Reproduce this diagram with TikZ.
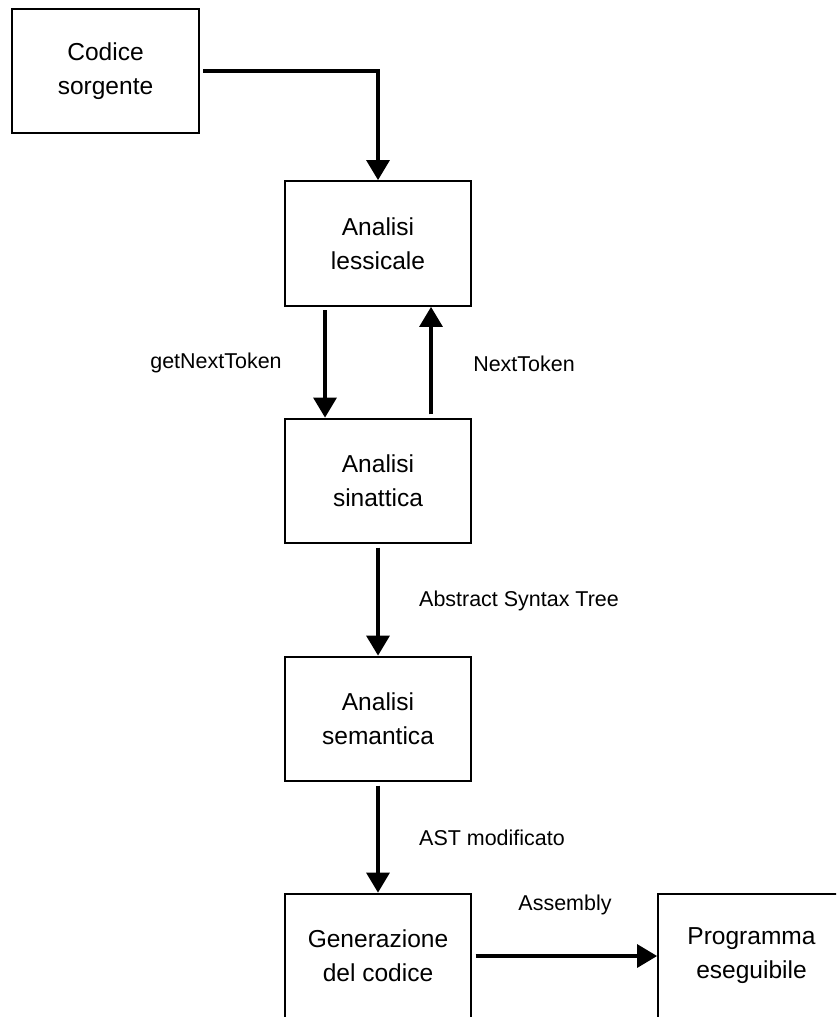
\documentclass[tikz,border=0pt]{standalone}
\usepackage{fontspec}
\setmainfont{Liberation Sans}
\usetikzlibrary{arrows.meta}

\begin{document}
\begin{tikzpicture}[x=0.75pt, y=-0.75pt,
    block/.style={draw, line width=1.5pt, minimum width=140pt, minimum height=93.5pt, align=center, font=\fontsize{18.4}{25.5}\selectfont},
    flow/.style={line width=3pt, shorten <=2.5pt, -{Triangle[length=15pt,width=17pt]}},
    lbl/.style={font=\fontsize{16.1}{19}\selectfont}]
    \useasboundingbox (0,0) rectangle (836,1017);
    \clip (0,0) rectangle (836,1017);

    \node[block] (codice) at (105.5, 71) {Codice\\sorgente};
    \node[block] (lessicale) at (378, 243.5) {Analisi\\lessicale};
    \node[block] (sinattica) at (378, 481) {Analisi\\sinattica};
    \node[block] (semantica) at (378, 719) {Analisi\\semantica};
    \node[block] (generazione) at (378, 956) {Generazione\\del codice};
    \node[block] (programma) at (751.5, 956) {Programma\\eseguibile};

    \node[lbl] (lblget) at (216, 363) {getNextToken};
    \node[lbl] (lblnext) at (524, 364) {NextToken};
    \node[lbl] (lblast) at (519, 601) {Abstract Syntax Tree};
    \node[lbl] (lblmod) at (492, 838) {AST modificato};
    \node[lbl] (lblasm) at (565, 905) {Assembly};

  \draw[flow] (codice.east) -| (lessicale.north);
  \draw[flow] ([xshift=-39.75pt]lessicale.south) -- ([xshift=-39.75pt]sinattica.north);
  \draw[flow] ([xshift=39.75pt]sinattica.north) -- ([xshift=39.75pt]lessicale.south);
  \draw[flow] (sinattica) -- (semantica);
  \draw[flow] (semantica) -- (generazione);
  \draw[flow] (generazione) -- (programma);
  \end{tikzpicture}
\end{document}
